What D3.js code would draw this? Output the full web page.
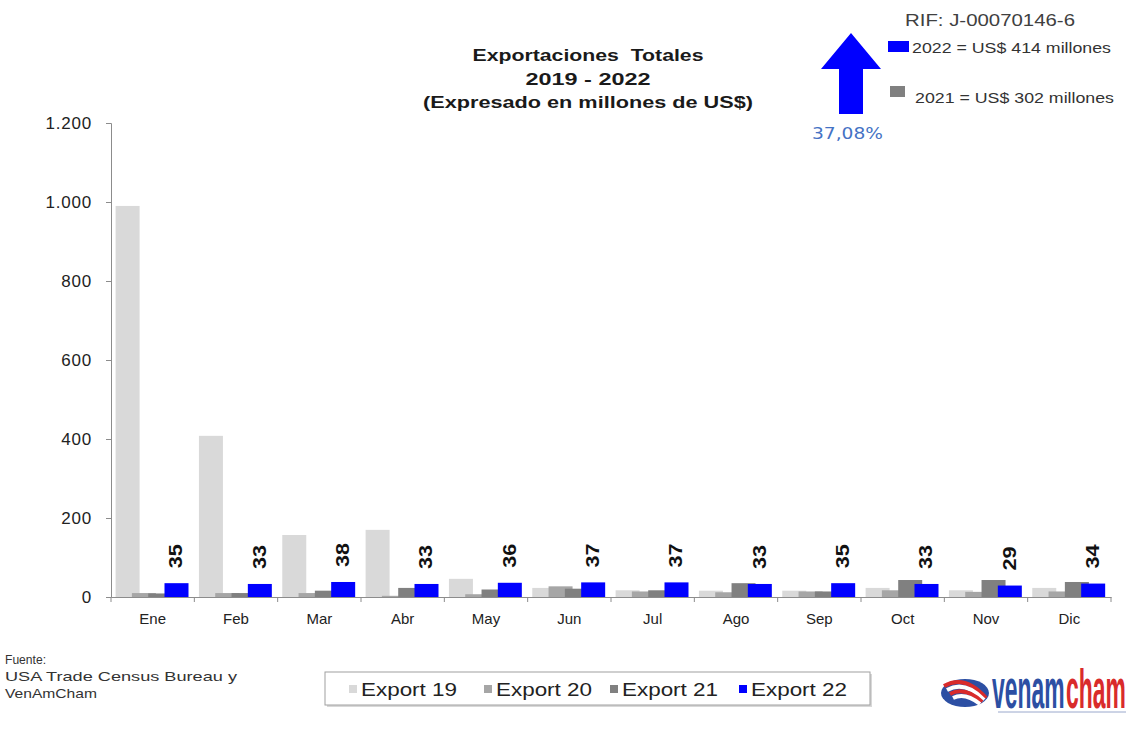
<!DOCTYPE html>
<html>
<head>
<meta charset="utf-8">
<script src="https://cdn.jsdelivr.net/npm/d3@7"></script>
<style>
  html, body { margin: 0; padding: 0; background: #fff; }
  svg { display: block; font-family: "Liberation Sans", Arial, sans-serif; }
</style>
</head>
<body>
<svg id="chart" width="1133" height="738"></svg>
<script>
// ---- data ----
const months = ["Ene","Feb","Mar","Abr","May","Jun","Jul","Ago","Sep","Oct","Nov","Dic"];
const seriesNames = ["Export 19","Export 20","Export 21","Export 22"];
const export19 = [990, 408, 157, 170, 46, 23, 17, 16, 16, 23, 17, 23];
const export20 = [10, 10, 10, 3, 7, 27, 14, 12, 14, 17, 13, 14];
const export21 = [9, 10, 16, 23, 19, 21, 17, 35, 14, 43, 43, 38];
const export22 = [35, 33, 38, 33, 36, 37, 37, 33, 35, 33, 29, 34];
const yTicks = [0, 200, 400, 600, 800, 1000, 1200];
const titleLines = ["Exportaciones  Totales", "2019 - 2022", "(Expresado en millones de US$)"];
const sourceLines = ["Fuente:", "USA Trade Census Bureau y", "VenAmCham"];
const summaryLines = ["2022 = US$ 414 millones", "2021 = US$ 302 millones"];
const rifText = "RIF: J-00070146-6";
const growthText = "37,08%";

const colors = ["#d9d9d9", "#a6a6a6", "#808080", "#0000ff"];
const seriesData = [export19, export20, export21, export22];

const svg = d3.select("#chart");
const plotLeft = 111, plotRight = 1111, plotTop = 123, plotBottom = 597;

const x = d3.scaleBand().domain(months).range([plotLeft, plotRight]).padding(0);
const y = d3.scaleLinear().domain([0, 1200]).range([plotBottom, plotTop]);
const barW = 24, step = 16.3, inset = 4.6;
const xs = d3.scalePoint().domain(seriesNames).range([inset, inset + 3 * step]);

const loc = d3.formatLocale({decimal: ",", thousands: ".", grouping: [3], currency: ["", ""]});
const fmt = loc.format(",d");

// helper: stretch text horizontally to a measured width
function stretch(sel, w) {
  sel.attr("textLength", w).attr("lengthAdjust", "spacingAndGlyphs");
}

// bars
seriesNames.forEach((s, i) => {
  svg.append("g").selectAll("rect")
    .data(months.map((m, j) => ({m, v: seriesData[i][j]})))
    .join("rect")
    .attr("x", d => x(d.m) + xs(s))
    .attr("width", barW)
    .attr("y", d => y(d.v))
    .attr("height", d => plotBottom - y(d.v))
    .attr("fill", colors[i]);
});

// value labels on Export 22
svg.append("g").selectAll("text")
  .data(months.map((m, j) => ({m, v: export22[j]})))
  .join("text")
  .attr("transform", d => `translate(${x(d.m) + xs("Export 22") + barW / 2 + 1},${y(d.v) - 15}) rotate(-90)`)
  .attr("text-anchor", "start")
  .attr("dominant-baseline", "middle")
  .attr("font-size", 18)
  .attr("font-weight", "bold")
  .attr("fill", "#111")
  .attr("textLength", 24).attr("lengthAdjust", "spacingAndGlyphs")
  .text(d => d.v);

// y axis
const yAxis = d3.axisLeft(y).tickValues(yTicks).tickFormat(fmt).tickSize(5).tickPadding(14);
const gy = svg.append("g").attr("transform", `translate(${plotLeft},0)`).call(yAxis);
gy.select(".domain").attr("stroke", "#8c8c8c");
gy.selectAll(".tick line").attr("stroke", "#8c8c8c");
gy.selectAll(".tick text").attr("font-size", 17).attr("fill", "#222")
  .attr("letter-spacing", 0.8)
  .attr("font-family", "Liberation Sans, Arial, sans-serif");

// x axis
const xAxis = d3.axisBottom(x).tickSize(0).tickPadding(16);
const gx = svg.append("g").attr("transform", `translate(0,${plotBottom})`).call(xAxis);
gx.select(".domain").attr("stroke", "#8c8c8c");
gx.selectAll(".tick text").attr("font-size", 15).attr("fill", "#222")
  .attr("font-family", "Liberation Sans, Arial, sans-serif");
const bounds = months.map(m => x(m)).concat([x.range()[1]]);
svg.append("g").selectAll("line").data(bounds).join("line")
  .attr("x1", d => d).attr("x2", d => d)
  .attr("y1", plotBottom).attr("y2", plotBottom + 5)
  .attr("stroke", "#8c8c8c");

// title
const titleW = [231, 125, 330];
svg.append("g").selectAll("text").data(titleLines).join("text")
  .attr("x", 588).attr("y", (d, i) => 61 + i * 23.5)
  .attr("text-anchor", "middle")
  .attr("font-size", 17).attr("font-weight", "bold").attr("fill", "#1a1a1a")
  .style("white-space", "pre")
  .attr("textLength", (d, i) => titleW[i]).attr("lengthAdjust", "spacingAndGlyphs")
  .text(d => d);

// RIF
svg.append("text").attr("x", 905).attr("y", 26).attr("font-size", 17).attr("fill", "#404040")
  .call(stretch, 170).text(rifText);

// summary legend
svg.append("rect").attr("x", 888).attr("y", 41).attr("width", 21).attr("height", 11).attr("fill", "#0000ff");
svg.append("text").attr("x", 912).attr("y", 53).attr("font-size", 14).attr("fill", "#333")
  .call(stretch, 199).text(summaryLines[0]);
svg.append("rect").attr("x", 890).attr("y", 86).attr("width", 15).attr("height", 11).attr("fill", "#808080");
svg.append("text").attr("x", 915).attr("y", 103).attr("font-size", 14).attr("fill", "#333")
  .call(stretch, 199).text(summaryLines[1]);

// arrow
svg.append("path")
  .attr("d", "M851,33 L881,69 L863,69 L863,114 L839,114 L839,69 L821,69 Z")
  .attr("fill", "#0000ff");
svg.append("text").attr("x", 812).attr("y", 139)
  .attr("font-size", 16).attr("fill", "#4472c4").attr("font-family", "DejaVu Sans, sans-serif")
  .call(stretch, 71).text(growthText);

// source
const sourceW = [41, 232, 92];
svg.append("g").selectAll("text").data(sourceLines).join("text")
  .attr("x", 5).attr("y", (d, i) => 664 + i * 17)
  .attr("font-size", 13).attr("fill", "#333")
  .attr("textLength", (d, i) => sourceW[i]).attr("lengthAdjust", "spacingAndGlyphs")
  .text(d => d);

// legend box
svg.append("rect").attr("x", 327).attr("y", 674).attr("width", 545).attr("height", 33).attr("fill", "#d8d8d8");
svg.append("rect").attr("x", 325).attr("y", 672).attr("width", 545).attr("height", 33)
  .attr("fill", "#fff").attr("stroke", "#a0a0a0");
const legX = [349, 484, 610, 739];
const lg = svg.append("g").selectAll("g").data(seriesNames).join("g")
  .attr("transform", (d, i) => `translate(${legX[i]},689)`);
lg.append("rect").attr("x", 0).attr("y", -4).attr("width", 8).attr("height", 8).attr("fill", (d, i) => colors[i]);
lg.append("text").attr("x", 12).attr("y", 7).attr("font-size", 19).attr("fill", "#222")
  .attr("textLength", 96).attr("lengthAdjust", "spacingAndGlyphs").text(d => d);

// logo (approximation)
const logo = svg.append("g").attr("transform", "translate(940,668)");
logo.append("ellipse").attr("cx", 25).attr("cy", 25).attr("rx", 24).attr("ry", 14).attr("fill", "#2c4fa3");
[0, 1, 2, 3].forEach(k => {
  logo.append("path")
    .attr("d", `M${4 + k * 3},${18 + k * 4} Q25,${6 + k * 6} ${46 - k * 2},${30 + k * 2}`)
    .attr("fill", "none").attr("stroke", k % 2 ? "#fff" : "#d92b2b").attr("stroke-width", 4);
});
logo.append("text").attr("transform", "translate(52,40) scale(0.88,2.1)")
  .attr("font-size", 26).attr("font-weight", "bold").attr("fill", "#2c4fa3").text("venam");
logo.append("text").attr("transform", "translate(126,40) scale(0.88,2.1)")
  .attr("font-size", 26).attr("font-weight", "bold").attr("fill", "#d92b2b").text("cham");
logo.append("line").attr("x1", 58).attr("x2", 186).attr("y1", 44).attr("y2", 44).attr("stroke", "#9aa8cc").attr("stroke-width", 1);
</script>
</body>
</html>
